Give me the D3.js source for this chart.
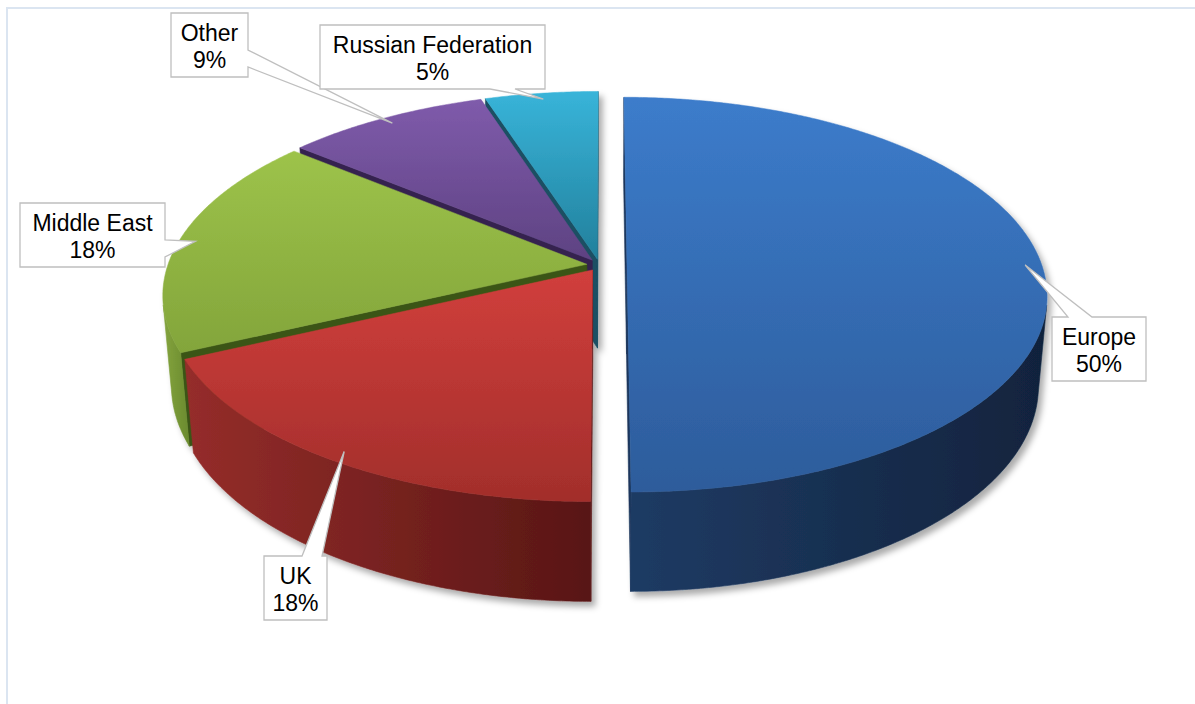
<!DOCTYPE html>
<html>
<head>
<meta charset="utf-8">
<script src="https://cdn.jsdelivr.net/npm/d3@7"></script>
<style>
  html, body { margin: 0; padding: 0; background: #ffffff; }
  svg { display: block; }
</style>
</head>
<body>
<svg id="chart" width="1195" height="704"></svg>
<script>
// ---- data ----
const categories = ["Europe", "UK", "Middle East", "Other", "Russian Federation"];
const shares = [50, 18, 18, 9, 5];
const shareLabels = shares.map(v => v + "%");

// ---- styling ----
const topColors  = [["#3c7ccb", "#2d5c9b"], ["#d13f3c", "#a22e2b"], ["#9dc34a", "#83a53b"], ["#7f5bab", "#5e4282"], ["#38b4d9", "#22809c"]];
const wallColors = [["#1f3b64", "#11233d"], ["#952d2a", "#581615"], ["#84a43e", "#6a8a2e"], ["#5a3f7c", "#3f2b5a"], ["#2a8aa6", "#1b6078"]];
const cutColors  = ["#1b355b", "#5c1a17", "#3b5514", "#35224f", "#1a4f63"];
const explode = [0.066, 0.03, 0.03, 0.03, 0.03];   // outward offset of each slice (pie radius = 1)
const radius  = [0.99, 1, 1, 1, 1];

// callout boxes: [x, y, w, h], side carrying the pointer and its base span
const callouts = [
  { box: [1052, 317, 94, 64], side: "top",    base: [1068, 1092] },
  { box: [264, 556, 63, 64],  side: "top",    base: [302, 322] },
  { box: [20, 203, 145, 64],  side: "right",  base: [240, 257] },
  { box: [171, 13, 77, 64],   side: "right",  base: [50, 67] },
  { box: [320, 25, 225, 64],  side: "bottom", base: [490, 515] }
];
const calloutOrder = [0, 1, 2, 3, 4];

// ---- 3D view ----
const view = { k: 419, sinT: 0.465, D: 5.84, camX: 0.01, cx: 603.5, cy: 265, h: 0.245 };
view.cosT = Math.sqrt(1 - view.sinT * view.sinT);
const cam = [view.camX, view.D * view.sinT, view.D * view.cosT];

function project(p) {
  const [X, Y, Z] = p;
  const yv = Y * view.cosT - Z * view.sinT;
  const zv = Z * view.cosT + Y * view.sinT;
  const s = view.D / (view.D - zv);
  return [view.cx + view.k * (X - view.camX) * s, view.cy - view.k * yv * s];
}
const facing = (n, p) => n[0] * (cam[0] - p[0]) + n[1] * (cam[1] - p[1]) + n[2] * (cam[2] - p[2]) > 0;

const svg = d3.select("#chart");
const defs = svg.append("defs");

// chart frame
svg.append("rect")
  .attr("x", 7).attr("y", 8).attr("width", 1200).attr("height", 720)
  .attr("fill", "none").attr("stroke", "#dbe5f1").attr("stroke-width", 2);

const shadow = defs.append("filter").attr("id", "pieShadow")
  .attr("x", "-10%").attr("y", "-10%").attr("width", "120%").attr("height", "120%");
shadow.append("feDropShadow").attr("dx", 4).attr("dy", 5).attr("stdDeviation", 3)
  .attr("flood-color", "#000").attr("flood-opacity", 0.33);

const arcs = d3.pie().sort(null).value(d => d).startAngle(0).endAngle(2 * Math.PI)(shares);

const slices = arcs.map((a, i) => {
  const mid = (a.startAngle + a.endAngle) / 2;
  const e = explode[i], r = radius[i];
  const ox = e * Math.sin(mid), oz = -e * Math.cos(mid);
  const rim = (ang, Y, f = 1) => [ox + f * r * Math.sin(ang), Y, oz - f * r * Math.cos(ang)];
  return { i, a0: a.startAngle, a1: a.endAngle, mid, ox, oz, r, rim,
           depth: oz - 0.5 * r * Math.cos(mid) };
});

const line = d3.line();
const pie = svg.append("g").attr("filter", "url(#pieShadow)");

slices.slice().sort((p, q) => p.depth - q.depth).forEach(sl => {
  const g = pie.append("g");
  const { i, a0, a1, ox, oz, r, rim } = sl;
  const h = view.h;
  const apexTop = [ox, 0, oz], apexBot = [ox, -h, oz];

  // radial cut faces
  [[a0, [-Math.cos(a0), 0, -Math.sin(a0)]], [a1, [Math.cos(a1), 0, Math.sin(a1)]]].forEach(([ang, n]) => {
    const centre = rim(ang, -h / 2, 0.5);
    if (!facing(n, centre)) return;
    const pts = [apexTop, rim(ang, 0), rim(ang, -h), apexBot].map(project);
    g.append("path").attr("d", line(pts) + "Z").attr("fill", cutColors[i])
      .attr("stroke", cutColors[i]).attr("stroke-width", 0.6);
  });

  // outer wall, only where it faces the camera
  const steps = Math.max(8, Math.ceil((a1 - a0) / (Math.PI / 360)));
  const runs = [];
  let cur = null;
  for (let s = 0; s <= steps; s++) {
    const ang = a0 + (a1 - a0) * s / steps;
    const vis = facing([Math.sin(ang), 0, -Math.cos(ang)], rim(ang, -h / 2));
    if (vis) { if (!cur) { cur = []; runs.push(cur); } cur.push(ang); }
    else cur = null;
  }
  runs.forEach((run, ri) => {
    if (run.length < 2) return;
    const topPts = run.map(ang => project(rim(ang, 0)));
    const botPts = run.slice().reverse().map(ang => project(rim(ang, -h)));
    const pts = topPts.concat(botPts);
    const xs = pts.map(p => p[0]);
    const gid = `wall${i}_${ri}`;
    const grad = defs.append("linearGradient").attr("id", gid)
      .attr("gradientUnits", "userSpaceOnUse")
      .attr("x1", d3.min(xs)).attr("x2", d3.max(xs)).attr("y1", 0).attr("y2", 0);
    grad.append("stop").attr("offset", 0).attr("stop-color", wallColors[i][0]);
    grad.append("stop").attr("offset", 1).attr("stop-color", wallColors[i][1]);
    g.append("path").attr("d", line(pts) + "Z").attr("fill", `url(#${gid})`)
      .attr("stroke", `url(#${gid})`).attr("stroke-width", 0.6);
  });

  // top face
  const topPts = [project(apexTop)];
  for (let s = 0; s <= steps; s++) topPts.push(project(rim(a0 + (a1 - a0) * s / steps, 0)));
  const tid = `top${i}`;
  const tg = defs.append("linearGradient").attr("id", tid).attr("x1", 0).attr("x2", 0).attr("y1", 0).attr("y2", 1);
  tg.append("stop").attr("offset", 0).attr("stop-color", topColors[i][0]);
  tg.append("stop").attr("offset", 1).attr("stop-color", topColors[i][1]);
  g.append("path").attr("d", line(topPts) + "Z").attr("fill", `url(#${tid})`)
    .attr("stroke", `url(#${tid})`).attr("stroke-width", 0.5);
});

// ---- data callouts ----
function calloutPath(c, tip) {
  const [x, y, w, h] = c.box;
  const [b0, b1] = c.base;
  const P = [[x, y]];
  if (c.side === "top") P.push([b0, y], tip, [b1, y]);
  P.push([x + w, y]);
  if (c.side === "right") P.push([x + w, b0], tip, [x + w, b1]);
  P.push([x + w, y + h]);
  if (c.side === "bottom") P.push([b1, y + h], tip, [b0, y + h]);
  P.push([x, y + h]);
  return line(P) + "Z";
}

const labels = svg.append("g")
  .attr("font-family", "'Liberation Sans', Arial, sans-serif")
  .attr("font-size", 23).attr("fill", "#000");

calloutOrder.forEach(i => {
  const sl = slices[i];
  const tip = project(sl.rim(sl.mid, 0, 0.96));
  const c = callouts[i];
  const [x, y, w, h] = c.box;
  labels.append("path").attr("d", calloutPath(c, tip))
    .attr("fill", "#ffffff").attr("stroke", "#bfbfbf").attr("stroke-width", 1.3);
  const t = labels.append("text").attr("text-anchor", "middle");
  t.append("tspan").attr("x", x + w / 2).attr("y", y + h / 2 - 4).text(categories[i]);
  t.append("tspan").attr("x", x + w / 2).attr("y", y + h / 2 + 23).text(shareLabels[i]);
});
</script>
</body>
</html>
